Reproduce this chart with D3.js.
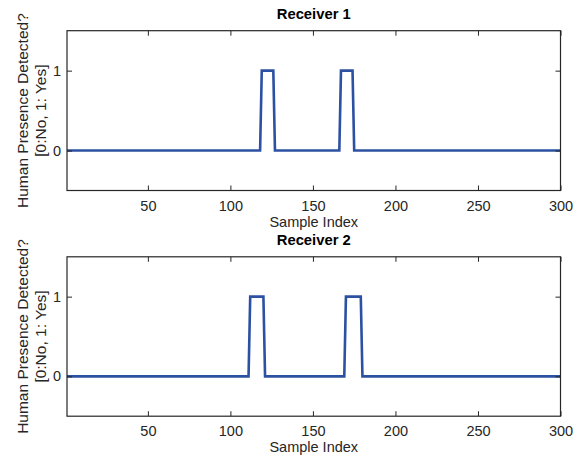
<!DOCTYPE html>
<html>
<head>
<meta charset="utf-8">
<script src="https://cdn.jsdelivr.net/npm/d3@7"></script>
<style>
  html, body { margin: 0; padding: 0; background: #fff; }
  svg { display: block; font-family: "Liberation Sans", Arial, Helvetica, sans-serif; }
</style>
</head>
<body>
<svg id="chart" width="582" height="458"></svg>
<script>
// Data: step-signal vertices (sample index, detection flag)
const titles = ["Receiver 1", "Receiver 2"];
const r1Index = [1, 118, 119, 126, 127, 166, 167, 174, 175, 300];
const r1Value = [0, 0, 1, 1, 0, 0, 1, 1, 0, 0];
const r2Index = [1, 111, 112, 120, 121, 169, 170, 179, 180, 300];
const r2Value = [0, 0, 1, 1, 0, 0, 1, 1, 0, 0];
const xTicks = [50, 100, 150, 200, 250, 300];
const yTicks = [0, 1];
const xLabel = "Sample Index";
const yLabelLines = ["Human Presence Detected?", "[0:No, 1: Yes]"];

const series = [
  r1Index.map((x, i) => ({x, y: r1Value[i]})),
  r2Index.map((x, i) => ({x, y: r2Value[i]}))
];

const svg = d3.select("#chart");
const W = 582, H = 458;
svg.append("rect").attr("width", W).attr("height", H).attr("fill", "#fff");

const left = 67, right = 560.5;
const panels = [{top: 30.7, bottom: 190.5}, {top: 256.8, bottom: 416.2}];
const axisColor = "#262626";
const lineColor = "#2c51a3";
const fs = 14.5;

panels.forEach((p, k) => {
  const x = d3.scaleLinear().domain([1, 300]).range([left, right]);
  const y = d3.scaleLinear().domain([-0.5, 1.5]).range([p.bottom, p.top]);
  const g = svg.append("g");

  // data line
  const line = d3.line().x(d => x(d.x)).y(d => y(d.y));
  g.append("path")
    .datum(series[k])
    .attr("d", line)
    .attr("fill", "none")
    .attr("stroke", lineColor)
    .attr("stroke-width", 2.6)
    .attr("stroke-linejoin", "miter");

  // axes (ticks inward)
  const tl = 5;
  const xb = g.append("g").attr("transform", `translate(0,${p.bottom})`)
    .call(d3.axisBottom(x).tickValues(xTicks).tickSizeInner(-tl).tickSizeOuter(0).tickPadding(10).tickFormat(d3.format("d")));
  const xt = g.append("g").attr("transform", `translate(0,${p.top})`)
    .call(d3.axisTop(x).tickValues(xTicks).tickSizeInner(-tl).tickSizeOuter(0).tickFormat(""));
  const yl = g.append("g").attr("transform", `translate(${left},0)`)
    .call(d3.axisLeft(y).tickValues(yTicks).tickSizeInner(-tl).tickSizeOuter(0).tickPadding(6).tickFormat(d3.format("d")));
  const yr = g.append("g").attr("transform", `translate(${right},0)`)
    .call(d3.axisRight(y).tickValues(yTicks).tickSizeInner(-tl).tickSizeOuter(0).tickFormat(""));
  [xb, xt, yl, yr].forEach(a => {
    a.select(".domain").remove();
    a.selectAll("line").attr("stroke", axisColor).attr("stroke-width", 1);
    a.selectAll("text").attr("fill", "#262626").style("font-size", fs + "px")
      .style("font-family", '"Liberation Sans", Arial, sans-serif');
  });
  // box
  g.append("rect")
    .attr("x", left).attr("y", p.top)
    .attr("width", right - left).attr("height", p.bottom - p.top)
    .attr("fill", "none").attr("stroke", axisColor).attr("stroke-width", 1.2);

  // title
  g.append("text")
    .attr("x", (left + right) / 2).attr("y", p.top - 12)
    .attr("text-anchor", "middle")
    .attr("font-weight", "bold")
    .style("font-size", "14.8px")
    .attr("fill", "#000")
    .text(titles[k]);

  // x label
  g.append("text")
    .attr("x", (left + right) / 2).attr("y", p.bottom + 36)
    .attr("text-anchor", "middle")
    .style("font-size", fs + "px")
    .attr("fill", "#262626")
    .text(xLabel);

  // y label (two lines, rotated)
  const cy = (p.top + p.bottom) / 2;
  const yt = g.append("text")
    .attr("transform", `translate(27.5,${cy}) rotate(-90)`)
    .attr("text-anchor", "middle")
    .style("font-size", "15.5px")
    .attr("fill", "#262626");
  yt.append("tspan").attr("x", 0).attr("y", 0).text(yLabelLines[0]);
  yt.append("tspan").attr("x", 0).attr("y", 18).text(yLabelLines[1]);
});
</script>
</body>
</html>
